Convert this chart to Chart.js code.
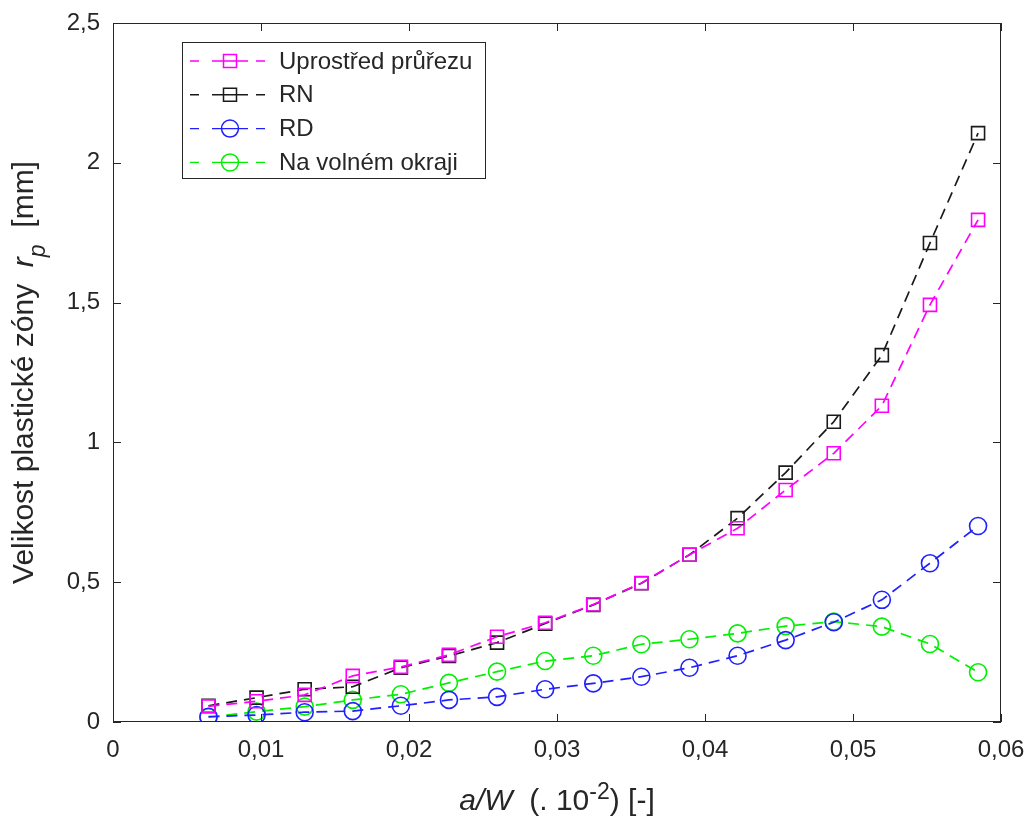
<!DOCTYPE html>
<html lang="cs">
<head>
<meta charset="UTF-8">
<title>Velikost plastické zóny</title>
<script src="https://cdn.jsdelivr.net/npm/chart.js@4.4.1/dist/chart.umd.min.js"></script>
<style>
  html, body { margin: 0; padding: 0; background: #fff; }
  #wrap { width: 1030px; height: 816px; }
</style>
</head>
<body>
<div id="wrap"><canvas id="graf" width="1030" height="816"></canvas></div>
<script>
// poměrná délka trhliny a/W
const aW = [0.00645, 0.0097, 0.01295, 0.0162, 0.01945, 0.0227, 0.02595, 0.0292, 0.03245,
            0.0357, 0.03895, 0.0422, 0.04545, 0.0487, 0.05195, 0.0552, 0.05845];

// velikost plastické zóny rp [mm]
const uprostred = [0.056, 0.074, 0.097, 0.165, 0.197, 0.240, 0.305, 0.355, 0.420,
                   0.497, 0.598, 0.693, 0.830, 0.961, 1.131, 1.492, 1.796];
const rn        = [0.058, 0.087, 0.117, 0.126, 0.194, 0.236, 0.284, 0.352, 0.419,
                   0.496, 0.598, 0.729, 0.892, 1.074, 1.312, 1.713, 2.106];
const rd        = [0.019, 0.025, 0.035, 0.039, 0.058, 0.079, 0.090, 0.117, 0.138,
                   0.162, 0.194, 0.237, 0.293, 0.357, 0.437, 0.568, 0.701];
const okraj     = [0.017, 0.037, 0.055, 0.079, 0.099, 0.140, 0.180, 0.218, 0.237,
                   0.278, 0.296, 0.317, 0.343, 0.359, 0.341, 0.279, 0.178];

const nazvy = ['Uprostřed průřezu', 'RN', 'RD', 'Na volném okraji'];
const xPopisky = ['0', '0,01', '0,02', '0,03', '0,04', '0,05', '0,06'];
const yPopisky = ['0', '0,5', '1', '1,5', '2', '2,5'];

const PISMO = '"Liberation Sans", Arial, Helvetica, sans-serif';
const OSA = '#262626';

function serie(label, hodnoty, barva, tvar) {
    return {
        label: label,
        data: aW.map((x, i) => ({ x: x, y: hodnoty[i] })),
        borderColor: barva,
        backgroundColor: 'rgba(0,0,0,0)',
        borderWidth: 1.7,
        borderDash: [11, 7],
        pointStyle: tvar,
        pointRadius: tvar === 'rect' ? 9.2 : 8.5,
        pointBorderWidth: 1.6,
        pointBorderColor: barva,
        pointBackgroundColor: 'rgba(0,0,0,0)',
        tension: 0
    };
}

// text s kurzívou, dolním a horním indexem
function bohatyText(ctx, casti, velikost, x, y, uhel) {
    ctx.save();
    ctx.translate(x, y);
    ctx.rotate(uhel);
    ctx.textAlign = 'left';
    ctx.textBaseline = 'alphabetic';
    ctx.fillStyle = OSA;
    const font = c => (c.it ? 'italic ' : '') + Math.round(velikost * (c.sub || c.sup ? 0.75 : 1)) + 'px ' + PISMO;
    let celkem = 0;
    casti.forEach(c => { ctx.font = font(c); c.w = ctx.measureText(c.t).width; celkem += c.w; });
    let cx = -celkem / 2;
    casti.forEach(c => {
        ctx.font = font(c);
        const dy = c.sub ? velikost * 0.4 : (c.sup ? -velikost * 0.38 : 0);
        ctx.fillText(c.t, cx, dy);
        cx += c.w;
    });
    ctx.restore();
}

const ramecek = {
    id: 'ramecek',
    afterDraw(chart) {
        const ctx = chart.ctx;
        const ca = chart.chartArea;
        const sx = chart.scales.x, sy = chart.scales.y;
        ctx.save();
        ctx.strokeStyle = OSA;
        ctx.lineWidth = 1;
        ctx.setLineDash([]);
        ctx.strokeRect(ca.left + 0.5, ca.top + 0.5, ca.right - ca.left - 1, ca.bottom - ca.top - 1);

        // značky dovnitř na všech čtyřech stranách
        const d = 8;
        ctx.beginPath();
        sx.ticks.forEach(t => {
            const px = Math.round(sx.getPixelForValue(t.value)) + 0.5;
            ctx.moveTo(px, ca.bottom); ctx.lineTo(px, ca.bottom - d);
            ctx.moveTo(px, ca.top); ctx.lineTo(px, ca.top + d);
        });
        sy.ticks.forEach(t => {
            const py = Math.round(sy.getPixelForValue(t.value)) + 0.5;
            ctx.moveTo(ca.left, py); ctx.lineTo(ca.left + d, py);
            ctx.moveTo(ca.right, py); ctx.lineTo(ca.right - d, py);
        });
        ctx.stroke();

        // popisy os
        bohatyText(ctx, [
            { t: 'a/W', it: true },
            { t: '  (. 10' },
            { t: '-2', sup: true },
            { t: ') [-]' }
        ], 30, (ca.left + ca.right) / 2, 810, 0);
        bohatyText(ctx, [
            { t: 'Velikost plastické zóny  ' },
            { t: 'r', it: true },
            { t: 'p', it: true, sub: true },
            { t: '  [mm]' }
        ], 30, 33, (ca.top + ca.bottom) / 2, -Math.PI / 2);

        // legenda
        const lx = ca.left + 69, ly = ca.top + 19, lw = 303, lh = 136;
        ctx.fillStyle = '#fff';
        ctx.fillRect(lx, ly, lw, lh);
        ctx.strokeStyle = OSA;
        ctx.lineWidth = 1;
        ctx.strokeRect(lx + 0.5, ly + 0.5, lw, lh);
        chart.data.datasets.forEach((ds, i) => {
            const ry = ly + 19 + i * 33.8;
            ctx.strokeStyle = ds.borderColor;
            ctx.lineWidth = 1.4;
            ctx.setLineDash([9, 13, 36, 8]);
            ctx.beginPath();
            ctx.moveTo(lx + 8, ry); ctx.lineTo(lx + 83, ry);
            ctx.stroke();
            ctx.setLineDash([]);
            ctx.lineWidth = 1.5;
            const mx = lx + 48;
            ctx.beginPath();
            if (ds.pointStyle === 'rect') {
                ctx.rect(mx - 6.5, ry - 6.5, 13, 13);
            } else {
                ctx.arc(mx, ry, 8.5, 0, Math.PI * 2);
            }
            ctx.stroke();
            ctx.fillStyle = OSA;
            ctx.font = '24px ' + PISMO;
            ctx.textAlign = 'left';
            ctx.textBaseline = 'middle';
            ctx.fillText(ds.label, lx + 97, ry + 1);
        });
        ctx.restore();
    }
};

new Chart(document.getElementById('graf'), {
    type: 'line',
    data: {
        datasets: [
            serie(nazvy[0], uprostred, '#ff00ff', 'rect'),
            serie(nazvy[1], rn, '#1a1a1a', 'rect'),
            serie(nazvy[2], rd, '#2020ff', 'circle'),
            serie(nazvy[3], okraj, '#00f000', 'circle')
        ]
    },
    options: {
        responsive: false,
        animation: false,
        devicePixelRatio: 1,
        layout: { padding: { left: 0, top: 23, right: 29, bottom: 0 } },
        plugins: { legend: { display: false }, tooltip: { enabled: false } },
        scales: {
            x: {
                type: 'linear',
                min: 0,
                max: 0.06,
                grid: { display: false, drawTicks: false },
                border: { display: false },
                ticks: {
                    stepSize: 0.01,
                    autoSkip: false,
                    maxRotation: 0,
                    padding: 14,
                    color: OSA,
                    font: { family: PISMO, size: 24 },
                    callback: (v, i) => xPopisky[i]
                },
                afterFit(s) { s.height = 94; s.paddingLeft = 0; s.paddingRight = 0; }
            },
            y: {
                type: 'linear',
                min: 0,
                max: 2.5,
                grid: { display: false, drawTicks: false },
                border: { display: false },
                ticks: {
                    stepSize: 0.5,
                    autoSkip: false,
                    padding: 13,
                    color: OSA,
                    font: { family: PISMO, size: 24 },
                    callback: (v, i) => yPopisky[i]
                },
                afterFit(s) { s.width = 113; s.paddingTop = 0; s.paddingBottom = 0; }
            }
        }
    },
    plugins: [ramecek]
});
</script>
</body>
</html>
